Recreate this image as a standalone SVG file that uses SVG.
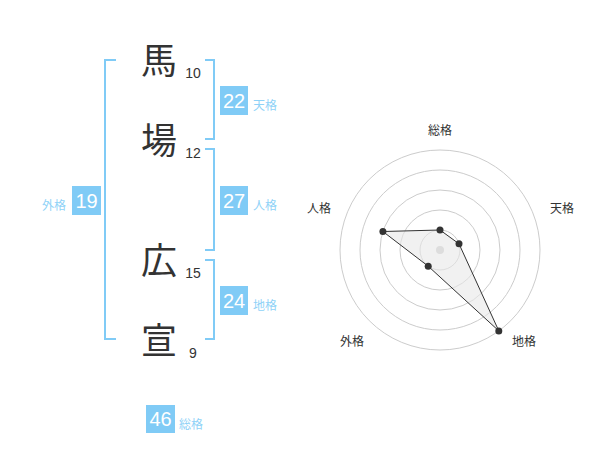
<svg xmlns="http://www.w3.org/2000/svg" width="600" height="470" viewBox="0 0 600 470">
<style>
.kanji{font-family:"Noto Sans CJK JP","Noto Sans CJK SC",sans-serif;font-size:36px;fill:#333;text-anchor:middle}
.num{font-family:"Liberation Sans",Arial,sans-serif;font-size:14px;fill:#333;text-anchor:middle}
.br{fill:none;stroke:#80cbf6;stroke-width:2}
.box{fill:#80cbf6}
.bnum{font-family:"Liberation Sans",Arial,sans-serif;font-size:20px;fill:#fff;text-anchor:middle}
.lab{font-family:"Noto Sans CJK JP","Noto Sans CJK SC",sans-serif;font-size:12px;fill:#8fd2f7}
.ring{fill:none;stroke:#ccc;stroke-width:1}
.axl{font-family:"Noto Sans CJK JP","Noto Sans CJK SC",sans-serif;font-size:12px;fill:#333;text-anchor:middle}
.pt{fill:#333}
</style>
<rect width="600" height="470" fill="#fff"/>
<g id="name">
<g id="c1"><text class="kanji" x="159" y="74">馬</text><text class="num" x="193" y="77.5">10</text></g>
<g id="c2"><text class="kanji" x="159" y="154">場</text><text class="num" x="193" y="157.5">12</text></g>
<g id="c3"><text class="kanji" x="159" y="274">広</text><text class="num" x="193" y="277.5">15</text></g>
<g id="c4"><text class="kanji" x="159" y="354">宣</text><text class="num" x="193" y="357.5">9</text></g>
</g>
<g id="connectors">
<path class="br" d="M116,60 H105 V339 H116"/>
<path class="br" d="M205,60 H214 V139 H205"/>
<path class="br" d="M205,149 H214 V250 H205"/>
<path class="br" d="M205,260 H214 V339 H205"/>
</g>
<g id="tenkaku"><rect class="box" x="220" y="86" width="28" height="29"/><text class="bnum" x="234" y="107.7">22</text><text class="lab" x="253" y="109.5">天格</text></g>
<g id="jinkaku"><rect class="box" x="220" y="186" width="28" height="29"/><text class="bnum" x="234" y="207.7">27</text><text class="lab" x="253" y="209.5">人格</text></g>
<g id="gaikaku"><rect class="box" x="72" y="186" width="29" height="29"/><text class="bnum" x="86.5" y="207.7">19</text><text class="lab" x="66" y="209.5" text-anchor="end">外格</text></g>
<g id="chikaku"><rect class="box" x="220" y="286" width="28" height="29"/><text class="bnum" x="234" y="307.7">24</text><text class="lab" x="253" y="309.5">地格</text></g>
<g id="soukaku"><rect class="box" x="146" y="405" width="29" height="28"/><text class="bnum" x="160.5" y="426.2">46</text><text class="lab" x="179" y="428.5">総格</text></g>
<g id="radar">
<circle class="ring" cx="440" cy="250" r="20"/>
<circle class="ring" cx="440" cy="250" r="40"/>
<circle class="ring" cx="440" cy="250" r="60"/>
<circle class="ring" cx="440" cy="250" r="80"/>
<circle class="ring" cx="440" cy="250" r="100"/>
<circle cx="440" cy="250" r="4" fill="#ccc"/>
<polygon points="440,230 459,243.8 498.8,330.9 428.2,266.2 382.9,231.5" fill="#e8e8e8" fill-opacity="0.6" stroke="#333" stroke-width="1"/>
<circle class="pt" cx="440" cy="230" r="3.5"/>
<circle class="pt" cx="459" cy="243.8" r="3.5"/>
<circle class="pt" cx="498.8" cy="330.9" r="3.5"/>
<circle class="pt" cx="428.2" cy="266.2" r="3.5"/>
<circle class="pt" cx="382.9" cy="231.5" r="3.5"/>
<text class="axl" x="440" y="135">総格</text>
<text class="axl" x="562" y="213">天格</text>
<text class="axl" x="524" y="346">地格</text>
<text class="axl" x="352" y="346">外格</text>
<text class="axl" x="319" y="213">人格</text>
</g>
</svg>
